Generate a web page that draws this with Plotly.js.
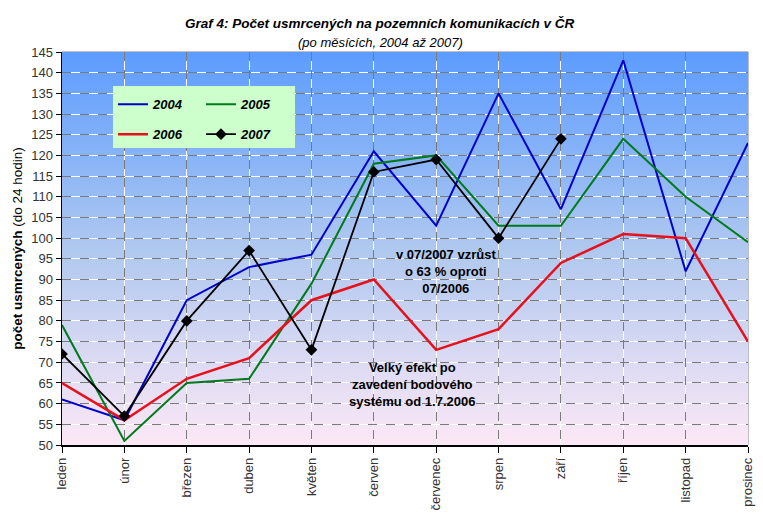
<!DOCTYPE html>
<html><head><meta charset="utf-8">
<script src="https://cdn.plot.ly/plotly-3.0.1.min.js"></script>
<style>body{margin:0;padding:0;background:#fff}#c{width:763px;height:520px}</style>
</head><body><div id="c"></div>
<script>
const months = ['leden','únor','březen','duben','květen','červen','červenec','srpen','září','říjen','listopad','prosinec'];
const y2004 = [61,56,85,93,96,121,103,135,107,143,92,123];
const y2005 = [79,51,65,66,89,118,120,103,103,124,110,99];
const y2006 = [65,56,66,71,85,90,73,78,94,101,100,75];
const y2007 = [72,57,80,97,73,116,119,100,124];
const yTicks = [50,55,60,65,70,75,80,85,90,95,100,105,110,115,120,125,130,135,140,145];

const F = 'Arial, "Liberation Sans", sans-serif';
const idx = months.map((m,i)=>i);

const grad = 'data:image/svg+xml;utf8,' + encodeURIComponent(
 '<svg xmlns="http://www.w3.org/2000/svg" width="100" height="100" preserveAspectRatio="none">' +
 '<defs><linearGradient id="g" x1="0" y1="0" x2="0" y2="1">' +
 '<stop offset="0" stop-color="#5c9cff"/><stop offset="0.5" stop-color="#afc8ef"/><stop offset="1" stop-color="#fce8f6"/>' +
 '</linearGradient></defs><rect width="100" height="100" fill="url(#g)"/></svg>');

const traces = [
 {x: idx, y: y2004, name:'2004', mode:'lines', line:{color:'#0000cc', width:2}, legend:'legend', legendgroup:'a'},
 {x: idx, y: y2005, name:'2005', mode:'lines', line:{color:'#007a1a', width:2}, legend:'legend2', legendgroup:'c'},
 {x: idx, y: y2006, name:'2006', mode:'lines', line:{color:'#e8101a', width:2.5}, legend:'legend', legendgroup:'b'},
 {x: idx.slice(0, y2007.length), y: y2007, name:'2007', mode:'lines+markers', line:{color:'#000000', width:1.8}, marker:{symbol:'diamond', size:9, color:'#000'}, legend:'legend2', legendgroup:'d'},
 {x: [0], y: [50], xaxis:'x2', yaxis:'y2', mode:'markers', marker:{opacity:0}, showlegend:false, hoverinfo:'skip'}
];

const legendCommon = {bgcolor:'rgba(0,0,0,0)', borderwidth:0, font:{family:F, size:13, weight:'bold', style:'italic', color:'#000'}, xanchor:'left', yanchor:'top', tracegroupgap:10, orientation:'v'};

const layout = {
 width:763, height:520,
 margin:{l:62, r:15, t:52, b:75},
 paper_bgcolor:'#ffffff', plot_bgcolor:'rgba(0,0,0,0)',
 font:{family:F, size:13, color:'#000'},
 showlegend:true,
 legend: Object.assign({}, legendCommon, {x:0.0743, y:0.905}),
 legend2: Object.assign({}, legendCommon, {x:0.2026, y:0.905}),
 xaxis:{range:[0,11], tickmode:'array', tickvals:idx, ticktext:months, tickangle:-90,
   showgrid:true, gridcolor:'#ffffff', gridwidth:1, zeroline:false,
   showline:true, linecolor:'#000', linewidth:1.5, ticks:'outside', ticklen:6, tickcolor:'#000',
   tickfont:{family:F, size:13, color:'#333'}, mirror:false},
 yaxis:{range:[50,145], tickmode:'array', tickvals:yTicks, ticktext:yTicks.map(String),
   showgrid:true, gridcolor:'#ffffff', gridwidth:1, zeroline:false,
   showline:true, linecolor:'#000', linewidth:1.5, ticks:'outside', ticklen:5, tickcolor:'#000',
   tickfont:{family:F, size:13, color:'#333'},
   title:{text:'<b>počet usmrcených</b> (do 24 hodin)', font:{family:F, size:13.5, color:'#000'}, standoff:5}},
 xaxis2:{range:[0,11], overlaying:'x', tickmode:'array', tickvals:idx, showticklabels:false, ticks:'',
   showgrid:true, gridcolor:'#7a7a7a', griddash:'dash', gridwidth:1, zeroline:false, showline:false},
 yaxis2:{range:[50,145], overlaying:'y', tickmode:'array', tickvals:yTicks, showticklabels:false, ticks:'',
   showgrid:true, gridcolor:'#7a7a7a', griddash:'dash', gridwidth:1, zeroline:false, showline:false},
 images:[{source:grad, xref:'x domain', yref:'y domain', x:0, y:1, sizex:1, sizey:1, sizing:'stretch', layer:'below', xanchor:'left', yanchor:'top'}],
 shapes:[
  {type:'rect', xref:'paper', yref:'paper', x0:0, x1:1, y0:0, y1:1, line:{color:'#808080', width:1}, fillcolor:'rgba(0,0,0,0)', layer:'below'},
  {type:'rect', xref:'paper', yref:'paper', x0:0.0743, x1:0.3397, y0:0.7557, y1:0.9135, line:{width:0}, fillcolor:'#ccffcc', layer:'above'}
 ],
 annotations:[
  {text:'Graf 4: Počet usmrcených na pozemních komunikacích v ČR', xref:'paper', yref:'paper', x:0.4636, y:1.0967, showarrow:false, font:{family:F, size:13.5, weight:'bold', style:'italic', color:'#000'}},
  {text:'(po měsících, 2004 až 2007)', xref:'paper', yref:'paper', x:0.4636, y:1.048, showarrow:false, font:{family:F, size:13, style:'italic', color:'#000'}},
  {text:'v 07/2007 vzrůst<br>o 63 % oproti<br>07/2006', xref:'x', yref:'y', x:6.15, y:92, showarrow:false, align:'center', font:{family:F, size:13, weight:'bold', color:'#000'}},
  {text:'Velký efekt po<br>zavedení bodového<br>systému od 1.7.2006', xref:'x', yref:'y', x:5.62, y:64.7, showarrow:false, align:'center', font:{family:F, size:13, weight:'bold', color:'#000'}}
 ]
};

Plotly.newPlot('c', traces, layout, {displayModeBar:false, staticPlot:true});
</script></body></html>
